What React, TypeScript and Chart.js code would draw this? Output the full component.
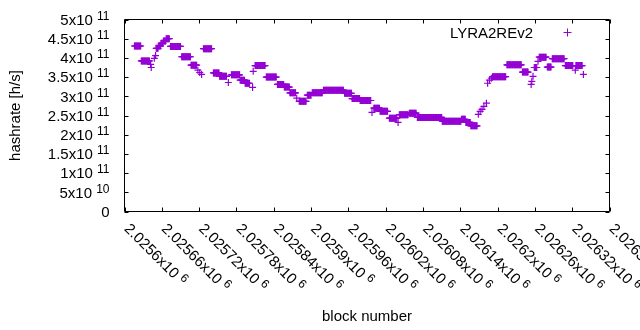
import React, { useEffect, useRef } from 'react';
import { Chart, registerables } from 'chart.js';

Chart.register(...registerables);

// ---------- data ----------
const SERIES_NAME = 'LYRA2REv2';
const X_TITLE = 'block number';
const Y_TITLE = 'hashrate [h/s]';

// Runs of consecutive blocks that share the same hashrate
const runFirstBlock = [
  2025616, 2025627, 2025642, 2025643, 2025648, 2025650, 2025651, 2025655, 2025659, 2025663,
  2025667, 2025674, 2025692, 2025707, 2025718, 2025721, 2025724, 2025727, 2025743, 2025753,
  2025767, 2025772, 2025786, 2025794, 2025806, 2025807, 2025810, 2025828, 2025846, 2025857,
  2025866, 2025877, 2025881, 2025894, 2025902, 2025920, 2025954, 2025966, 2025979, 2025998,
  2026001, 2026011, 2026026, 2026040, 2026042, 2026058, 2026071, 2026111, 2026142, 2026149,
  2026157, 2026169, 2026172, 2026175, 2026178, 2026182, 2026184, 2026187, 2026190, 2026192,
  2026215, 2026240, 2026254, 2026255, 2026257, 2026259, 2026265, 2026267, 2026280, 2026288,
  2026309, 2026325, 2026326, 2026338,
];
const runLastBlock = [
  2025626, 2025640, 2025642, 2025643, 2025648, 2025650, 2025654, 2025658, 2025662, 2025666,
  2025672, 2025690, 2025706, 2025716, 2025718, 2025721, 2025724, 2025740, 2025752, 2025764,
  2025767, 2025785, 2025793, 2025801, 2025806, 2025807, 2025826, 2025844, 2025856, 2025865,
  2025875, 2025877, 2025892, 2025900, 2025918, 2025952, 2025965, 2025978, 2025996, 2025998,
  2026010, 2026023, 2026038, 2026040, 2026056, 2026069, 2026110, 2026141, 2026148, 2026156,
  2026167, 2026169, 2026172, 2026175, 2026178, 2026182, 2026184, 2026187, 2026190, 2026213,
  2026238, 2026249, 2026254, 2026255, 2026257, 2026263, 2026265, 2026278, 2026286, 2026307,
  2026321, 2026325, 2026336, 2026338,
];
const runHashrate = [
  4.31e11, 3.92e11, 3.83e11, 3.75e11, 3.99e11, 4.06e11, 4.25e11, 4.31e11, 4.38e11, 4.44e11,
  4.50e11, 4.30e11, 4.03e11, 3.81e11, 3.68e11, 3.62e11, 3.57e11, 4.24e11, 3.61e11, 3.52e11,
  3.36e11, 3.56e11, 3.42e11, 3.34e11, 3.23e11, 3.65e11, 3.80e11, 3.50e11, 3.31e11, 3.24e11,
  3.09e11, 2.95e11, 2.87e11, 3.03e11, 3.09e11, 3.16e11, 3.08e11, 2.94e11, 2.89e11, 2.58e11,
  2.69e11, 2.61e11, 2.43e11, 2.32e11, 2.52e11, 2.56e11, 2.45e11, 2.35e11, 2.40e11, 2.32e11,
  2.23e11, 2.53e11, 2.61e11, 2.66e11, 2.74e11, 2.82e11, 3.34e11, 3.42e11, 3.47e11, 3.51e11,
  3.82e11, 3.63e11, 3.31e11, 3.39e11, 3.52e11, 3.75e11, 3.91e11, 4.02e11, 3.76e11, 3.98e11,
  3.80e11, 3.68e11, 3.80e11, 3.57e11,
];

const xTickValues = [
  2025600, 2025660, 2025720, 2025780, 2025840, 2025900, 2025960,
  2026020, 2026080, 2026140, 2026200, 2026260, 2026320, 2026380,
];
const xTickLabels = [
  '2.0256x10^6', '2.02566x10^6', '2.02572x10^6', '2.02578x10^6', '2.02584x10^6',
  '2.0259x10^6', '2.02596x10^6', '2.02602x10^6', '2.02608x10^6', '2.02614x10^6',
  '2.0262x10^6', '2.02626x10^6', '2.02632x10^6', '2.02638x10^6',
];
const yTickValues = [0, 5e10, 1e11, 1.5e11, 2e11, 2.5e11, 3e11, 3.5e11, 4e11, 4.5e11, 5e11];
const yTickLabels = [
  '0', '5x10^10', '1x10^11', '1.5x10^11', '2x10^11', '2.5x10^11',
  '3x10^11', '3.5x10^11', '4x10^11', '4.5x10^11', '5x10^11',
];

// ---------- style ----------
const COLOR = '#9400d3';
const FONT = '"Liberation Sans", Arial, sans-serif';
const FS = 15;
const SUP = 12;
const RAISE = 5;
const TIC = 4;

function drawSci(ctx: CanvasRenderingContext2D, label: string, x: number, y: number, align: 'left' | 'right') {
  const parts = label.split('^');
  const base = parts[0];
  const exp = parts[1];
  ctx.font = `${FS}px ${FONT}`;
  const wb = ctx.measureText(base).width;
  let wsp = 0;
  let ws = 0;
  if (exp) {
    wsp = ctx.measureText(' ').width;
    ctx.font = `${SUP}px ${FONT}`;
    ws = ctx.measureText(exp).width;
  }
  const total = wb + wsp + ws;
  const x0 = align === 'right' ? x - total : x;
  ctx.textAlign = 'left';
  ctx.textBaseline = 'alphabetic';
  ctx.font = `${FS}px ${FONT}`;
  ctx.fillText(base, x0, y);
  if (exp) {
    ctx.font = `${SUP}px ${FONT}`;
    ctx.fillText(exp, x0 + wb + wsp, y - RAISE);
  }
}

const gnuplotPlugin = {
  id: 'gnuplotFrame',
  afterDraw(chart: any) {
    const ctx: CanvasRenderingContext2D = chart.ctx;
    const { left, right, top, bottom } = chart.chartArea;
    const xs = chart.scales.x;
    const ys = chart.scales.y;
    ctx.save();
    ctx.strokeStyle = '#000';
    ctx.fillStyle = '#000';
    ctx.lineWidth = 1;
    ctx.beginPath();
    ctx.rect(left, top, right - left, bottom - top);
    yTickValues.forEach((v) => {
      const py = Math.round(ys.getPixelForValue(v)) + 0.5;
      ctx.moveTo(left, py); ctx.lineTo(left + TIC, py);
      ctx.moveTo(right, py); ctx.lineTo(right - TIC, py);
    });
    xTickValues.forEach((v) => {
      const px = Math.round(xs.getPixelForValue(v)) + 0.5;
      ctx.moveTo(px, bottom); ctx.lineTo(px, bottom - TIC);
      ctx.moveTo(px, top); ctx.lineTo(px, top + TIC);
    });
    ctx.stroke();

    yTickValues.forEach((v, i) => {
      const py = ys.getPixelForValue(v);
      drawSci(ctx, yTickLabels[i], 109.5, py + 5.3, 'right');
    });
    xTickValues.forEach((v, i) => {
      const px = xs.getPixelForValue(v);
      ctx.save();
      ctx.translate(px - 1, bottom + 18);
      ctx.rotate(Math.PI / 4);
      drawSci(ctx, xTickLabels[i], 0, 0, 'left');
      ctx.restore();
    });

    ctx.font = `${FS}px ${FONT}`;
    ctx.textAlign = 'center';
    ctx.textBaseline = 'alphabetic';
    ctx.fillText(X_TITLE, (left + right) / 2, 321);
    ctx.save();
    ctx.translate(20, (top + bottom) / 2);
    ctx.rotate(-Math.PI / 2);
    ctx.fillText(Y_TITLE, 0, 0);
    ctx.restore();

    ctx.textAlign = 'right';
    ctx.fillText(SERIES_NAME, 533, 37.5);
    ctx.strokeStyle = COLOR;
    ctx.beginPath();
    ctx.moveTo(563.5, 32.5); ctx.lineTo(571.5, 32.5);
    ctx.moveTo(567.5, 28.5); ctx.lineTo(567.5, 36.5);
    ctx.stroke();
    ctx.restore();
  },
};

export default function App() {
  const ref = useRef<HTMLCanvasElement | null>(null);
  useEffect(() => {
    document.body.style.margin = '0';
    const points: { x: number; y: number }[] = [];
    for (let i = 0; i < runFirstBlock.length; i++) {
      for (let b = runFirstBlock[i]; b <= runLastBlock[i]; b++) {
        points.push({ x: b, y: runHashrate[i] });
      }
    }
    const chart = new Chart(ref.current as HTMLCanvasElement, {
      type: 'scatter',
      data: {
        datasets: [
          {
            label: SERIES_NAME,
            data: points,
            pointStyle: 'cross',
            pointRadius: 3.5,
            pointBorderWidth: 1.2,
            borderColor: COLOR,
            backgroundColor: COLOR,
            showLine: false,
          },
        ],
      },
      options: {
        animation: false,
        responsive: false,
        devicePixelRatio: 1,
        layout: { padding: { left: 124.5, right: 30.5, top: 19.5, bottom: 118.5 } },
        scales: {
          x: { type: 'linear', min: xTickValues[0], max: xTickValues[xTickValues.length - 1], display: false },
          y: { type: 'linear', min: yTickValues[0], max: yTickValues[yTickValues.length - 1], display: false },
        },
        plugins: { legend: { display: false }, tooltip: { enabled: false } },
      },
      plugins: [gnuplotPlugin],
    });
    return () => chart.destroy();
  }, []);
  return (
    <div style={{ position: 'absolute', left: 0, top: 0, width: 640, height: 330, background: '#fff' }}>
      <canvas ref={ref} width={640} height={330} style={{ display: 'block' }} />
    </div>
  );
}
